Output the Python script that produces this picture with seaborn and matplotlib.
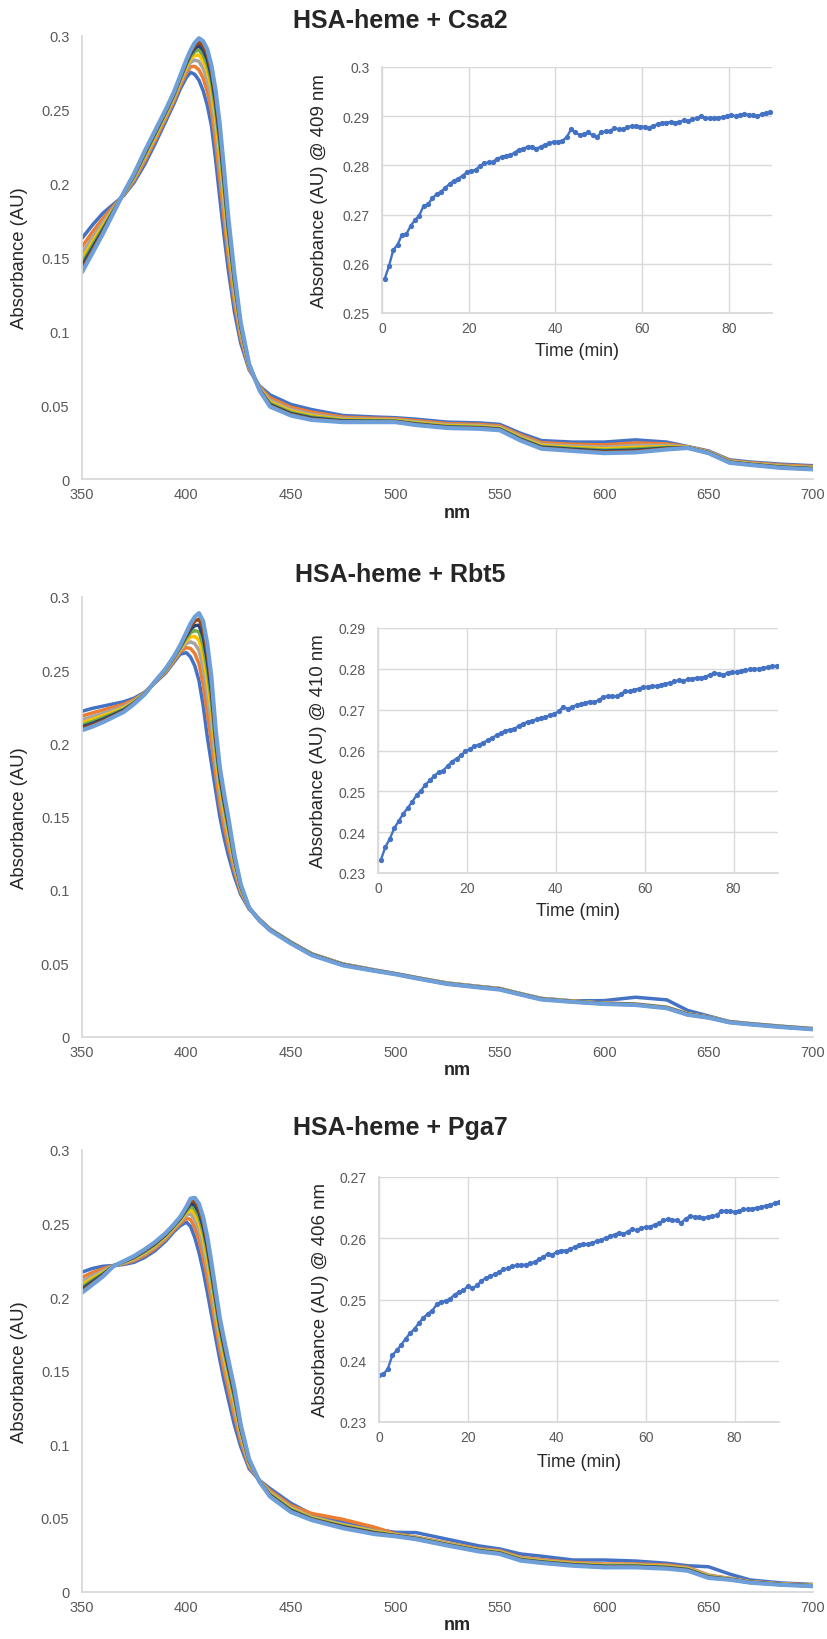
import numpy as np
import pandas as pd
import matplotlib
matplotlib.use("Agg")
import matplotlib.pyplot as plt
import seaborn as sns
from matplotlib.ticker import FuncFormatter, MultipleLocator

# ---------------- data ----------------
wavelength = [350, 355, 360, 365, 370, 375, 380, 385, 390, 394, 397, 400, 402, 404, 406, 408,
              410, 412, 414, 416, 418, 420, 423, 426, 430, 435, 440, 450, 460, 475, 490, 500,
              510, 525, 540, 550, 560, 570, 585, 600, 615, 630, 640, 650, 660, 670, 685, 700]

# each row = one wavelength, columns = successive scans (first ... last)
csa2_spectra = [
    [.1630, .1573, .1527, .1492, .1464, .1441, .1421, .1400],
    [.1720, .1673, .1635, .1606, .1583, .1564, .1547, .1530],
    [.1800, .1765, .1737, .1716, .1699, .1685, .1673, .1660],
    [.1860, .1845, .1833, .1824, .1817, .1811, .1805, .1800],
    [.1920, .1925, .1929, .1932, .1934, .1936, .1938, .1940],
    [.2010, .2025, .2037, .2046, .2053, .2059, .2065, .2070],
    [.2130, .2153, .2171, .2184, .2195, .2204, .2212, .2220],
    [.2270, .2293, .2311, .2324, .2335, .2344, .2352, .2360],
    [.2420, .2440, .2456, .2468, .2478, .2486, .2493, .2500],
    [.2540, .2560, .2576, .2588, .2598, .2606, .2613, .2620],
    [.2640, .2663, .2681, .2694, .2705, .2714, .2722, .2730],
    [.2720, .2750, .2774, .2792, .2806, .2818, .2829, .2840],
    [.2754, .2792, .2822, .2845, .2863, .2878, .2891, .2905],
    [.2740, .2794, .2837, .2869, .2895, .2916, .2936, .2955],
    [.2700, .2771, .2828, .2871, .2905, .2934, .2959, .2985],
    [.2630, .2714, .2781, .2831, .2871, .2905, .2935, .2965],
    [.2530, .2625, .2701, .2758, .2804, .2842, .2876, .2910],
    [.2390, .2493, .2575, .2636, .2685, .2726, .2763, .2800],
    [.2160, .2278, .2372, .2442, .2498, .2545, .2588, .2630],
    [.1900, .2025, .2125, .2200, .2260, .2310, .2355, .2400],
    [.1650, .1763, .1853, .1920, .1974, .2019, .2060, .2100],
    [.1420, .1510, .1582, .1636, .1679, .1715, .1748, .1780],
    [.1130, .1195, .1247, .1286, .1317, .1343, .1367, .1390],
    [.0920, .0955, .0983, .1004, .1021, .1035, .1047, .1060],
    [.0740, .0750, .0758, .0764, .0769, .0773, .0776, .0780],
    [.0630, .0623, .0617, .0612, .0608, .0605, .0603, .0600],
    [.0570, .0550, .0534, .0522, .0512, .0504, .0497, .0490],
    [.0505, .0486, .0471, .0460, .0451, .0443, .0437, .0430],
    [.0470, .0453, .0439, .0428, .0420, .0413, .0406, .0400],
    [.0430, .0419, .0410, .0403, .0398, .0393, .0389, .0385],
    [.0420, .0411, .0404, .0399, .0395, .0391, .0388, .0385],
    [.0415, .0408, .0402, .0397, .0393, .0390, .0388, .0385],
    [.0405, .0395, .0387, .0381, .0376, .0372, .0369, .0365],
    [.0385, .0375, .0367, .0361, .0356, .0352, .0349, .0345],
    [.0380, .0370, .0362, .0356, .0351, .0347, .0344, .0340],
    [.0370, .0360, .0352, .0346, .0341, .0337, .0334, .0330],
    [.0310, .0298, .0288, .0280, .0274, .0269, .0265, .0260],
    [.0260, .0246, .0235, .0227, .0220, .0215, .0210, .0205],
    [.0250, .0235, .0223, .0214, .0207, .0201, .0195, .0190],
    [.0250, .0231, .0216, .0205, .0196, .0189, .0182, .0175],
    [.0265, .0244, .0227, .0214, .0204, .0195, .0188, .0180],
    [.0250, .0238, .0228, .0220, .0214, .0209, .0205, .0200],
    [.0220, .0218, .0216, .0214, .0213, .0212, .0211, .0210],
    [.0190, .0186, .0183, .0181, .0179, .0178, .0176, .0175],
    [.0130, .0125, .0121, .0118, .0116, .0114, .0112, .0110],
    [.0115, .0110, .0106, .0103, .0101, .0099, .0097, .0095],
    [.0100, .0094, .0089, .0085, .0082, .0080, .0077, .0075],
    [.0090, .0084, .0079, .0075, .0072, .0070, .0067, .0065],
]

rbt5_spectra = [
    [.2220, .2188, .2162, .2142, .2126, .2113, .2102, .2090],
    [.2240, .2209, .2184, .2165, .2150, .2137, .2126, .2115],
    [.2255, .2228, .2206, .2189, .2176, .2165, .2155, .2145],
    [.2270, .2248, .2230, .2216, .2205, .2196, .2188, .2180],
    [.2285, .2268, .2254, .2243, .2235, .2228, .2221, .2215],
    [.2310, .2300, .2292, .2286, .2281, .2277, .2274, .2270],
    [.2350, .2346, .2343, .2341, .2339, .2338, .2336, .2335],
    [.2415, .2418, .2420, .2421, .2422, .2423, .2424, .2425],
    [.2480, .2488, .2494, .2498, .2502, .2505, .2507, .2510],
    [.2555, .2565, .2573, .2579, .2584, .2588, .2591, .2595],
    [.2610, .2625, .2637, .2646, .2653, .2659, .2665, .2670],
    [.2620, .2655, .2683, .2704, .2721, .2735, .2747, .2760],
    [.2590, .2648, .2694, .2728, .2756, .2779, .2799, .2820],
    [.2530, .2614, .2681, .2731, .2771, .2805, .2835, .2865],
    [.2430, .2545, .2637, .2706, .2761, .2807, .2849, .2890],
    [.2260, .2404, .2519, .2605, .2674, .2732, .2783, .2835],
    [.2045, .2204, .2331, .2426, .2502, .2566, .2623, .2680],
    [.1860, .2008, .2126, .2214, .2285, .2344, .2397, .2450],
    [.1680, .1785, .1869, .1932, .1982, .2024, .2062, .2100],
    [.1500, .1585, .1653, .1704, .1745, .1779, .1809, .1840],
    [.1360, .1435, .1495, .1540, .1576, .1606, .1633, .1660],
    [.1240, .1305, .1357, .1396, .1427, .1453, .1477, .1500],
    [.1090, .1128, .1158, .1180, .1198, .1213, .1227, .1240],
    [.0970, .0988, .1002, .1012, .1020, .1027, .1034, .1040],
    [.0870, .0873, .0875, .0876, .0877, .0878, .0879, .0880],
    [.0800, .0798, .0796, .0794, .0793, .0792, .0791, .0790],
    [.0735, .0733, .0732, .0731, .0730, .0729, .0727, .0725],
    [.0645, .0643, .0642, .0641, .0640, .0639, .0637, .0635],
    [.0565, .0563, .0562, .0561, .0560, .0559, .0557, .0555],
    [.0495, .0493, .0492, .0491, .0490, .0489, .0487, .0485],
    [.0455, .0453, .0452, .0451, .0450, .0450, .0449, .0448],
    [.0430, .0429, .0428, .0428, .0427, .0427, .0426, .0425],
    [.0403, .0402, .0401, .0400, .0400, .0399, .0398, .0397],
    [.0365, .0364, .0363, .0362, .0361, .0360, .0359, .0358],
    [.0342, .0341, .0340, .0339, .0338, .0337, .0336, .0335],
    [.0328, .0327, .0326, .0325, .0324, .0323, .0322, .0320],
    [.0293, .0292, .0291, .0290, .0289, .0288, .0287, .0286],
    [.0260, .0259, .0258, .0257, .0256, .0255, .0254, .0252],
    [.0243, .0242, .0241, .0240, .0239, .0238, .0237, .0236],
    [.0245, .0228, .0227, .0226, .0225, .0224, .0223, .0222],
    [.0268, .0222, .0221, .0220, .0219, .0218, .0217, .0215],
    [.0250, .0200, .0199, .0198, .0197, .0196, .0195, .0193],
    [.0178, .0156, .0155, .0154, .0152, .0151, .0150, .0148],
    [.0140, .0134, .0133, .0132, .0131, .0130, .0129, .0128],
    [.0102, .0101, .0100, .0099, .0099, .0098, .0097, .0096],
    [.0088, .0087, .0086, .0085, .0085, .0084, .0083, .0082],
    [.0070, .0069, .0068, .0067, .0067, .0066, .0065, .0064],
    [.0054, .0053, .0052, .0052, .0051, .0051, .0050, .0049],
]

pga7_spectra = [
    [.2170, .2135, .2107, .2086, .2069, .2055, .2043, .2030],
    [.2195, .2168, .2146, .2129, .2116, .2105, .2095, .2085],
    [.2210, .2193, .2179, .2168, .2160, .2153, .2146, .2140],
    [.2215, .2214, .2213, .2212, .2212, .2211, .2211, .2210],
    [.2222, .2228, .2232, .2236, .2239, .2241, .2243, .2245],
    [.2237, .2248, .2256, .2263, .2268, .2272, .2276, .2280],
    [.2270, .2284, .2295, .2303, .2310, .2315, .2320, .2325],
    [.2316, .2331, .2343, .2351, .2358, .2364, .2370, .2375],
    [.2380, .2394, .2405, .2413, .2420, .2425, .2430, .2435],
    [.2445, .2458, .2468, .2475, .2481, .2486, .2491, .2495],
    [.2485, .2500, .2512, .2521, .2528, .2534, .2540, .2545],
    [.2510, .2536, .2557, .2573, .2586, .2596, .2606, .2615],
    [.2480, .2528, .2566, .2594, .2617, .2636, .2653, .2670],
    [.2405, .2473, .2527, .2567, .2599, .2626, .2651, .2675],
    [.2305, .2388, .2454, .2503, .2543, .2576, .2605, .2635],
    [.2180, .2271, .2344, .2399, .2443, .2479, .2512, .2545],
    [.2035, .2129, .2204, .2260, .2305, .2343, .2376, .2410],
    [.1880, .1969, .2040, .2093, .2136, .2171, .2203, .2235],
    [.1725, .1805, .1869, .1917, .1955, .1987, .2016, .2045],
    [.1575, .1646, .1703, .1746, .1780, .1809, .1834, .1860],
    [.1435, .1505, .1561, .1603, .1637, .1665, .1690, .1715],
    [.1310, .1378, .1432, .1472, .1504, .1531, .1556, .1580],
    [.1130, .1193, .1243, .1280, .1310, .1335, .1358, .1380],
    [.0985, .1023, .1053, .1075, .1093, .1108, .1122, .1135],
    [.0835, .0851, .0864, .0874, .0882, .0888, .0894, .0900],
    [.0755, .0753, .0751, .0749, .0748, .0747, .0746, .0745],
    [.0700, .0686, .0675, .0667, .0660, .0655, .0650, .0645],
    [.0600, .0585, .0573, .0564, .0557, .0551, .0545, .0540],
    [.0525, .0530, .0507, .0501, .0496, .0492, .0489, .0485],
    [.0470, .0490, .0455, .0449, .0444, .0440, .0435, .0430],
    [.0425, .0437, .0413, .0408, .0403, .0399, .0395, .0390],
    [.0402, .0392, .0388, .0385, .0382, .0380, .0378, .0375],
    [.0400, .0370, .0367, .0364, .0362, .0360, .0357, .0355],
    [.0355, .0330, .0327, .0323, .0320, .0317, .0315, .0312],
    [.0310, .0290, .0286, .0283, .0280, .0277, .0275, .0272],
    [.0289, .0277, .0272, .0268, .0264, .0261, .0258, .0255],
    [.0255, .0232, .0227, .0223, .0219, .0216, .0213, .0210],
    [.0240, .0216, .0211, .0207, .0203, .0200, .0197, .0194],
    [.0214, .0198, .0193, .0189, .0185, .0182, .0178, .0175],
    [.0214, .0187, .0182, .0178, .0174, .0171, .0167, .0164],
    [.0207, .0187, .0182, .0178, .0174, .0171, .0167, .0164],
    [.0192, .0180, .0174, .0170, .0166, .0162, .0159, .0155],
    [.0175, .0164, .0159, .0155, .0151, .0148, .0144, .0141],
    [.0168, .0112, .0108, .0104, .0101, .0098, .0095, .0092],
    [.0119, .0090, .0088, .0086, .0085, .0083, .0082, .0080],
    [.0078, .0068, .0066, .0065, .0064, .0063, .0061, .0060],
    [.0058, .0052, .0050, .0049, .0048, .0047, .0046, .0045],
    [.0048, .0045, .0043, .0042, .0040, .0039, .0037, .0036],
]

# kinetics (absorbance at the Soret maximum vs time)
csa2_time = np.arange(0.6, 90, 1.0)
csa2_kinetic = [
    0.2569, 0.2595, 0.2628, 0.2639, 0.2659, 0.2660, 0.2677, 0.2689, 0.2698, 0.2718,
    0.2721, 0.2733, 0.2742, 0.2746, 0.2755, 0.2762, 0.2769, 0.2773, 0.2779, 0.2786,
    0.2789, 0.2791, 0.2799, 0.2804, 0.2806, 0.2807, 0.2814, 0.2817, 0.2819, 0.2821,
    0.2826, 0.2832, 0.2834, 0.2838, 0.2838, 0.2834, 0.2838, 0.2842, 0.2845, 0.2848,
    0.2848, 0.2850, 0.2857, 0.2873, 0.2867, 0.2862, 0.2863, 0.2867, 0.2861, 0.2858,
    0.2867, 0.2869, 0.2870, 0.2876, 0.2873, 0.2873, 0.2878, 0.2880, 0.2880, 0.2879,
    0.2879, 0.2877, 0.2880, 0.2884, 0.2886, 0.2887, 0.2888, 0.2887, 0.2888, 0.2892,
    0.2890, 0.2894, 0.2896, 0.2900, 0.2897, 0.2896, 0.2896, 0.2897, 0.2898, 0.2900,
    0.2902, 0.2900, 0.2903, 0.2904, 0.2903, 0.2902, 0.2900, 0.2904, 0.2906, 0.2909]

rbt5_time = np.arange(0.67, 90, 1.0)
rbt5_kinetic = [
    0.2333, 0.2364, 0.2384, 0.2410, 0.2427, 0.2445, 0.2459, 0.2474, 0.2490, 0.2502,
    0.2516, 0.2527, 0.2538, 0.2547, 0.2551, 0.2562, 0.2573, 0.2580, 0.2588, 0.2598,
    0.2603, 0.2611, 0.2614, 0.2619, 0.2625, 0.2631, 0.2637, 0.2643, 0.2648, 0.2651,
    0.2653, 0.2660, 0.2666, 0.2670, 0.2673, 0.2676, 0.2680, 0.2682, 0.2686, 0.2690,
    0.2696, 0.2707, 0.2702, 0.2707, 0.2711, 0.2713, 0.2717, 0.2720, 0.2719, 0.2723,
    0.2731, 0.2733, 0.2733, 0.2733, 0.2739, 0.2745, 0.2745, 0.2749, 0.2751, 0.2756,
    0.2756, 0.2758, 0.2758, 0.2761, 0.2764, 0.2766, 0.2769, 0.2772, 0.2770, 0.2774,
    0.2776, 0.2778, 0.2778, 0.2780, 0.2786, 0.2790, 0.2788, 0.2784, 0.2791, 0.2792,
    0.2792, 0.2795, 0.2796, 0.2799, 0.2800, 0.2800, 0.2803, 0.2804, 0.2807, 0.2807]

pga7_time = np.arange(0, 91, 1.0)
pga7_kinetic = [
    0.2376, 0.2378, 0.2387, 0.2409, 0.2417, 0.2426, 0.2436, 0.2445, 0.2452, 0.2462,
    0.2470, 0.2477, 0.2482, 0.2492, 0.2496, 0.2498, 0.2501, 0.2508, 0.2512, 0.2515,
    0.2522, 0.2518, 0.2523, 0.2530, 0.2535, 0.2538, 0.2541, 0.2545, 0.2549, 0.2551,
    0.2554, 0.2556, 0.2556, 0.2557, 0.2559, 0.2561, 0.2566, 0.2569, 0.2575, 0.2573,
    0.2578, 0.2580, 0.2580, 0.2582, 0.2586, 0.2589, 0.2591, 0.2590, 0.2593, 0.2595,
    0.2597, 0.2601, 0.2603, 0.2606, 0.2609, 0.2607, 0.2611, 0.2615, 0.2613, 0.2617,
    0.2618, 0.2619, 0.2622, 0.2625, 0.2629, 0.2631, 0.2630, 0.2629, 0.2625, 0.2632,
    0.2636, 0.2635, 0.2634, 0.2633, 0.2635, 0.2636, 0.2638, 0.2644, 0.2645, 0.2644,
    0.2643, 0.2645, 0.2647, 0.2648, 0.2648, 0.2650, 0.2651, 0.2653, 0.2655, 0.2657,
    0.2659]

titles = ["HSA-heme + Csa2", "HSA-heme + Rbt5", "HSA-heme + Pga7"]
inset_ylabels = ["Absorbance (AU) @ 409 nm", "Absorbance (AU) @ 410 nm", "Absorbance (AU) @ 406 nm"]
inset_ylims = [(0.25, 0.30), (0.23, 0.29), (0.23, 0.27)]

scan_colors = ["#4472C4", "#ED7D31", "#A5A5A5", "#FFC000", "#70AD47",
               "#264478", "#9E480E", "#6E9FD8"]

# ---------------- style ----------------
sns.set_style("white")
plt.rcParams["font.family"] = ["Liberation Sans", "DejaVu Sans"]

W, H, DPI = 828, 1640, 100
fig = plt.figure(figsize=(W / DPI, H / DPI), dpi=DPI)
fig.patch.set_facecolor("white")

def fx(px):
    return px / W

def fy(px):
    return 1 - px / H

GRID = "#D9D9D9"
TICK = "#595959"
fmt = FuncFormatter(lambda v, p: f"{v:g}")

main_boxes = [(82, 813, 37, 480), (82, 813, 598, 1037.5), (82, 813, 1151, 1592.5)]
inset_boxes = [(382, 772, 68, 314), (378, 778, 629, 874), (379, 779, 1178, 1423)]
title_y = [21, 575, 1128]
inset_ylabel_x = [320, 319, 321]
inset_xlabel_dy = [38, 38, 40]

spectra_sets = [csa2_spectra, rbt5_spectra, pga7_spectra]
kinetic_sets = [(csa2_time, csa2_kinetic), (rbt5_time, rbt5_kinetic), (pga7_time, pga7_kinetic)]

for i in range(3):
    l, r, t, b = main_boxes[i]
    ax = fig.add_axes([fx(l), fy(b), fx(r - l), (b - t) / H])
    arr = np.array(spectra_sets[i])
    n_scans = arr.shape[1]
    df = pd.DataFrame(arr, columns=[f"scan{k+1}" for k in range(n_scans)])
    df["nm"] = wavelength
    long = df.melt(id_vars="nm", var_name="scan", value_name="abs")
    for k in range(n_scans):
        sub = long[long["scan"] == f"scan{k+1}"]
        lw = 3.0 if k == n_scans - 1 else 2.5
        sns.lineplot(data=sub, x="nm", y="abs", color=scan_colors[k], lw=lw,
                     ax=ax, legend=False, sort=False, estimator=None)
    ax.set_xlim(350, 700)
    ax.set_ylim(0, 0.3)
    ax.xaxis.set_major_locator(MultipleLocator(50))
    ax.yaxis.set_major_locator(MultipleLocator(0.05))
    ax.yaxis.set_major_formatter(fmt)
    for s in ["top", "right"]:
        ax.spines[s].set_visible(False)
    for s in ["left", "bottom"]:
        ax.spines[s].set_color(GRID)
        ax.spines[s].set_linewidth(1.3)
    ax.tick_params(axis="both", length=0, labelsize=10.5, colors=TICK)
    ax.tick_params(axis="y", pad=9)
    ax.tick_params(axis="x", pad=6)
    ax.set_xlabel("nm", fontsize=13, fontweight="bold", va="center")
    ax.xaxis.set_label_coords((457 - l) / (r - l), -33 / (b - t))
    ax.set_ylabel("Absorbance (AU)", fontsize=13.3, va="center")
    ax.yaxis.set_label_coords((20 - l) / (r - l), 0.5)
    ax.patch.set_alpha(0)

    fig.text(fx(400), fy(title_y[i]), titles[i], fontsize=18, fontweight="bold",
             ha="center", va="center")

    # inset kinetics
    l2, r2, t2, b2 = inset_boxes[i]
    axi = fig.add_axes([fx(l2), fy(b2), fx(r2 - l2), (b2 - t2) / H])
    tt, vv = kinetic_sets[i]
    kdf = pd.DataFrame({"time": tt, "abs": vv})
    sns.lineplot(data=kdf, x="time", y="abs", color="#4472C4", lw=1.7, marker="o",
                 markersize=3.8, markeredgewidth=0, ax=axi, legend=False)
    axi.set_xlim(0, 90)
    axi.set_ylim(*inset_ylims[i])
    axi.xaxis.set_major_locator(MultipleLocator(20))
    axi.yaxis.set_major_locator(MultipleLocator(0.01))
    axi.yaxis.set_major_formatter(fmt)
    axi.grid(True, color=GRID, lw=1.0)
    axi.set_axisbelow(True)
    for s in ["top", "right"]:
        axi.spines[s].set_visible(False)
    for s in ["left", "bottom"]:
        axi.spines[s].set_color(GRID)
        axi.spines[s].set_linewidth(1.3)
    axi.tick_params(axis="both", length=0, labelsize=10, colors=TICK)
    axi.tick_params(axis="y", pad=9)
    axi.tick_params(axis="x", pad=6)
    axi.set_xlabel("Time (min)", fontsize=12.8, va="center")
    axi.xaxis.set_label_coords(0.5, -inset_xlabel_dy[i] / (b2 - t2))
    axi.set_ylabel(inset_ylabels[i], fontsize=13.4, va="center")
    axi.yaxis.set_label_coords((inset_ylabel_x[i] - l2) / (r2 - l2), 0.5)
    axi.set_facecolor("white")

fig.savefig("out.png", dpi=DPI, facecolor="white")
